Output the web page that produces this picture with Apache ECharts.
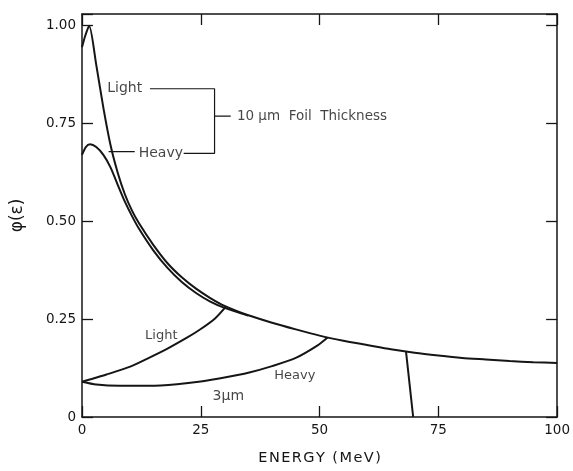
<!DOCTYPE html>
<html>
<head>
<meta charset="utf-8">
<script src="https://cdn.jsdelivr.net/npm/echarts@6/dist/echarts.min.js"></script>
<style>
html,body{margin:0;padding:0;background:#fff;}
#chart{width:573px;height:471px;}
</style>
</head>
<body>
<div id="chart"></div>
<script>
// ---- data ----
const xTicks = [0, 25, 50, 75, 100];
const yTicks = [0, 0.25, 0.50, 0.75, 1.00];

const light10X = [0, 0.7, 1.5, 3, 4.5, 6, 7.5, 9, 10.5, 12, 15, 18, 21, 24, 27, 30, 35, 40, 45, 50, 55, 60, 65, 70, 75, 80, 85, 90, 95, 100];
const light10Y = [0.945, 0.975, 1.00, 0.90, 0.79, 0.695, 0.625, 0.57, 0.528, 0.495, 0.44, 0.393, 0.357, 0.328, 0.304, 0.284, 0.26, 0.241, 0.224, 0.208, 0.195, 0.184, 0.173, 0.164, 0.157, 0.151, 0.147, 0.143, 0.140, 0.138];

const heavy10X = [0, 0.8, 1.7, 3, 4.5, 6, 7.5, 9, 10.5, 12, 15, 18, 21, 24, 27, 30, 35];
const heavy10Y = [0.67, 0.69, 0.697, 0.69, 0.67, 0.638, 0.594, 0.551, 0.514, 0.481, 0.426, 0.381, 0.345, 0.317, 0.295, 0.279, 0.259];

const light3X = [0, 2, 5, 10, 14.2, 18, 22, 25, 28, 30.2];
const light3Y = [0.09, 0.097, 0.108, 0.128, 0.152, 0.175, 0.202, 0.225, 0.252, 0.281];

const heavy3X = [0, 3, 8, 14.2, 20, 25, 30, 35, 40, 45, 49.6, 51.7];
const heavy3Y = [0.09, 0.083, 0.08, 0.08, 0.084, 0.091, 0.101, 0.113, 0.13, 0.151, 0.183, 0.203];

const dropX = [68.2, 69.7];
const dropY = [0.167, 0];

// annotation texts (data coordinates)
const annoText = ['Light', 'Heavy', '10 \u03bcm  Foil  Thickness', 'Light', 'Heavy', '3\u03bcm'];
const annoX = [9.0, 16.6, 32.6, 16.7, 44.8, 30.8];
const annoY = [0.839, 0.674, 0.769, 0.209, 0.105, 0.052];
const annoAlign = ['center', 'center', 'left', 'center', 'center', 'center'];
const annoSize = [14, 14, 13.5, 13, 13, 14];

// bracket lines (data coordinates)
const bracketX = [14.3, 27.9, 27.9, 21.4];
const bracketY = [0.839, 0.839, 0.674, 0.674];
const bracketTickX = [27.9, 31.3];
const bracketTickY = [0.769, 0.769];
const pointerX = [5.6, 11.1];
const pointerY = [0.678, 0.678];

// ---- build ----
const zip = (xs, ys) => xs.map((x, i) => [x, ys[i]]);
const INK = '#151515';
const FONT = 'DejaVu Sans';
const HS = '\u200a';

const curve = (name, xs, ys, extra) => Object.assign({
  name, type: 'line', data: zip(xs, ys), showSymbol: false, symbol: 'none',
  smooth: 0.25,
  lineStyle: { color: INK, width: 2 }, z: 3, silent: true
}, extra || {});

const thin = (name, xs, ys) => ({
  name, type: 'line', data: zip(xs, ys), showSymbol: false, symbol: 'none',
  lineStyle: { color: INK, width: 1.2 }, silent: true
});

const tickFmt = v => {
  if (v > 1.01) return '';
  if (v === 0) return '0';
  return v.toFixed(2);
};

const axisCommon = {
  axisLine: { show: true, onZero: false, lineStyle: { color: INK, width: 1.5 } },
  axisTick: { show: true, inside: true, length: 11, lineStyle: { color: INK, width: 1.3 } },
  splitLine: { show: false }
};

const chart = echarts.init(document.getElementById('chart'), null, { renderer: 'canvas' });
chart.setOption({
  backgroundColor: '#ffffff',
  animation: false,
  grid: { left: 82, right: 10, top: 14, bottom: 51.5 },
  xAxis: [
    Object.assign({
      type: 'value', min: xTicks[0], max: xTicks[xTicks.length - 1], interval: 25,
      name: 'ENERGY (MeV)'.split('').join(HS), nameLocation: 'middle', nameGap: 34,
      nameTextStyle: { fontFamily: FONT, fontSize: 14.5, color: INK },
      axisLabel: { fontFamily: FONT, fontSize: 13.5, color: INK, margin: 6 }
    }, axisCommon),
    Object.assign({
      type: 'value', position: 'top', min: 0, max: 100, interval: 25,
      axisLabel: { show: false }
    }, axisCommon)
  ],
  yAxis: [
    Object.assign({
      type: 'value', min: yTicks[0], max: 1.03, interval: 0.25,
      name: '\u03c6(\u03b5)', nameLocation: 'middle', nameGap: 56, nameRotate: 90,
      nameTextStyle: { fontFamily: FONT, fontSize: 17, color: INK },
      axisLabel: { fontFamily: FONT, fontSize: 13.5, color: INK, margin: 6, formatter: tickFmt }
    }, axisCommon),
    Object.assign({
      type: 'value', position: 'right', min: 0, max: 1.03, interval: 0.25,
      axisLabel: { show: false }
    }, axisCommon)
  ],
  series: [
    curve('Light 10\u03bcm', light10X, light10Y),
    curve('Heavy 10\u03bcm', heavy10X, heavy10Y),
    curve('Light 3\u03bcm', light3X, light3Y),
    curve('Heavy 3\u03bcm', heavy3X, heavy3Y),
    curve('cutoff', dropX, dropY, { smooth: false }),
    thin('bracket', bracketX, bracketY),
    thin('bracketTick', bracketTickX, bracketTickY),
    thin('pointer', pointerX, pointerY),
    {
      name: 'labels', type: 'scatter', symbolSize: 0, silent: true,
      data: annoText.map((t, i) => ({
        value: [annoX[i], annoY[i]],
        label: {
          show: true, formatter: t, position: 'inside', align: annoAlign[i],
          verticalAlign: 'middle', fontFamily: FONT, fontSize: annoSize[i], color: INK
        }
      }))
    }
  ]
});
</script>
</body>
</html>
